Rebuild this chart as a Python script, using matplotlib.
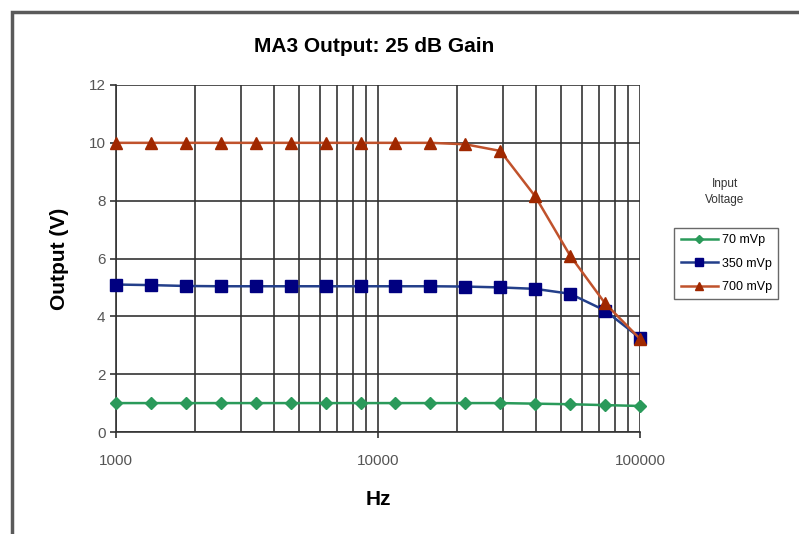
import matplotlib.pyplot as plt
from matplotlib.patches import Rectangle
from matplotlib.ticker import LogLocator, NullFormatter
import numpy as np

plt.rcParams['font.family'] = ['Liberation Sans', 'DejaVu Sans']

# Frequencies (Hz)
freq = [1000, 1359, 1848, 2512, 3415, 4642, 6310, 8577, 11659, 15849,
        21544, 29286, 39811, 54117, 73564, 100000]

# Output (V) for each input voltage
out_70 = [1.0, 1.0, 1.0, 1.0, 1.0, 1.0, 1.0, 1.0, 1.0, 1.0,
          1.0, 1.0, 0.98, 0.96, 0.93, 0.9]
out_350 = [5.1, 5.08, 5.05, 5.04, 5.04, 5.04, 5.04, 5.04, 5.04, 5.04,
           5.03, 5.0, 4.95, 4.78, 4.2, 3.25]
out_700 = [10.0, 10.0, 10.0, 10.0, 10.0, 10.0, 10.0, 10.0, 10.0, 10.0,
           9.95, 9.72, 8.15, 6.1, 4.45, 3.22]

labels = ['70 mVp', '350 mVp', '700 mVp']

fig = plt.figure(figsize=(7.99, 5.34), dpi=100)

# chart frame
fig.patches.append(Rectangle((12 / 799, -0.05), 1.1, 1 - 12 / 534 + 0.05,
                             transform=fig.transFigure, fill=False,
                             edgecolor='#5a5a5a', linewidth=2.5))

ax = fig.add_axes([116 / 799, 1 - 432 / 534, 524 / 799, 347 / 534])

ax.plot(freq, out_70, color='#2a9a5a', marker='D', markersize=6,
        linewidth=1.8, label=labels[0], clip_on=False, zorder=3)
ax.plot(freq, out_350, color='#233f8a', marker='s', markersize=8,
        markerfacecolor='#000080', markeredgecolor='#000080',
        linewidth=1.8, label=labels[1], clip_on=False, zorder=3)
ax.plot(freq, out_700, color='#c0522c', marker='^', markersize=8,
        markerfacecolor='#a02800', markeredgecolor='#a02800',
        linewidth=1.8, label=labels[2], clip_on=False, zorder=3)

ax.set_xscale('log')
ax.set_xlim(1000, 100000)
ax.set_ylim(0, 12)
ax.set_yticks(np.arange(0, 13, 2))
ax.set_xticks([1000, 10000, 100000])
ax.set_xticklabels(['1000', '10000', '100000'])
ax.xaxis.set_minor_locator(LogLocator(base=10, subs=np.arange(2, 10)))
ax.xaxis.set_minor_formatter(NullFormatter())

ax.grid(True, which='major', axis='y', color='#333333', linewidth=1.2)
ax.grid(True, which='both', axis='x', color='#333333', linewidth=1.2)
ax.set_axisbelow(True)

for s in ['top', 'right']:
    ax.spines[s].set_visible(False)
for s in ['left', 'bottom']:
    ax.spines[s].set_color('#333333')
    ax.spines[s].set_linewidth(1.2)

ax.tick_params(axis='both', which='major', labelsize=11, labelcolor='#555555',
               color='#333333', length=4, width=1.2)
ax.tick_params(axis='x', which='major', pad=12)
ax.tick_params(axis='x', which='minor', length=0)

ax.set_xlabel('Hz', fontsize=15, fontweight='bold', labelpad=16)
ax.set_ylabel('Output (V)', fontsize=15, fontweight='bold', labelpad=14)
fig.text(0.468, 1 - 46 / 534, 'MA3 Output: 25 dB Gain', ha='center',
         va='center', fontsize=15, fontweight='bold')

fig.text(725 / 799, 1 - 192 / 534, 'Input\nVoltage', ha='center', va='center',
         fontsize=8.5, color='#333333', linespacing=1.5)
leg = ax.legend(loc='upper left', bbox_to_anchor=(668 / 799, 1 - 222 / 534),
                bbox_transform=fig.transFigure, fontsize=9, frameon=True,
                fancybox=False, handlelength=3, borderpad=0.5,
                labelspacing=0.9, handletextpad=0.3, markerscale=0.7)
leg.get_frame().set_edgecolor('#444444')
leg.get_frame().set_linewidth(1.0)

fig.savefig('out.png', dpi=100)
